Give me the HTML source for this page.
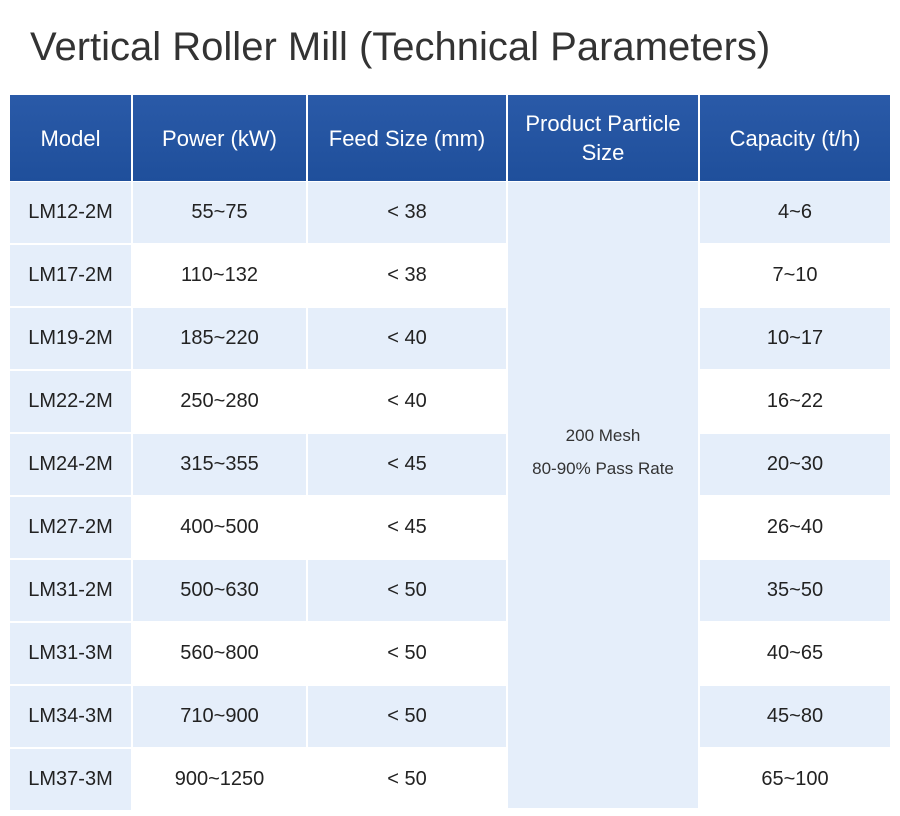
<!DOCTYPE html>
<html><head><style>
body{margin:0;width:900px;height:816px;background:#fff;position:relative;overflow:hidden;font-family:"Liberation Sans",sans-serif;}
.t{position:absolute;left:30px;top:25px;font-size:40px;color:#333;}
.c{position:absolute;display:flex;align-items:center;justify-content:center;text-align:center;color:#222;font-size:20px;}
.h{background:linear-gradient(#2a5aa8,#1f4f9b);color:#fff;font-size:22px;line-height:29px;}
.l{background:#e5eefa;}
.w{background:#fff;}
</style></head><body>
<div class="t">Vertical Roller Mill (Technical Parameters)</div>
<div id="tb"></div>
<script>
var cols=[[10,131],[133,306],[308,506],[508,698],[700,890]];
var hd=["Model","Power (kW)","Feed Size (mm)","Product Particle<br>Size","Capacity (t/h)"];
var h="";
cols.forEach(function(c,i){h+='<div class="c h" style="left:'+c[0]+'px;top:95px;width:'+(c[1]-c[0])+'px;height:86px">'+hd[i]+'</div>';});
var d=[["LM12-2M","55~75","&lt; 38","4~6"],["LM17-2M","110~132","&lt; 38","7~10"],["LM19-2M","185~220","&lt; 40","10~17"],["LM22-2M","250~280","&lt; 40","16~22"],["LM24-2M","315~355","&lt; 45","20~30"],["LM27-2M","400~500","&lt; 45","26~40"],["LM31-2M","500~630","&lt; 50","35~50"],["LM31-3M","560~800","&lt; 50","40~65"],["LM34-3M","710~900","&lt; 50","45~80"],["LM37-3M","900~1250","&lt; 50","65~100"]];
d.forEach(function(r,i){
 var top=182+63*i, ht=61, alt=i%2==1;
 var cells=[[0,r[0],"l"],[1,r[1],alt?"w":"l"],[2,r[2],alt?"w":"l"],[4,r[3],alt?"w":"l"]];
 cells.forEach(function(x){var c=cols[x[0]];h+='<div class="c '+x[2]+'" style="left:'+c[0]+'px;top:'+top+'px;width:'+(c[1]-c[0])+'px;height:'+ht+'px">'+x[1]+'</div>';});
});
h+='<div class="c l" style="left:508px;top:182px;width:190px;height:540px;font-size:17px;line-height:33px;color:#333">200 Mesh<br>80-90% Pass Rate</div>';
h+='<div class="l" style="position:absolute;left:508px;top:720px;width:190px;height:88px"></div>';
document.getElementById("tb").innerHTML=h;
</script>
</body></html>
